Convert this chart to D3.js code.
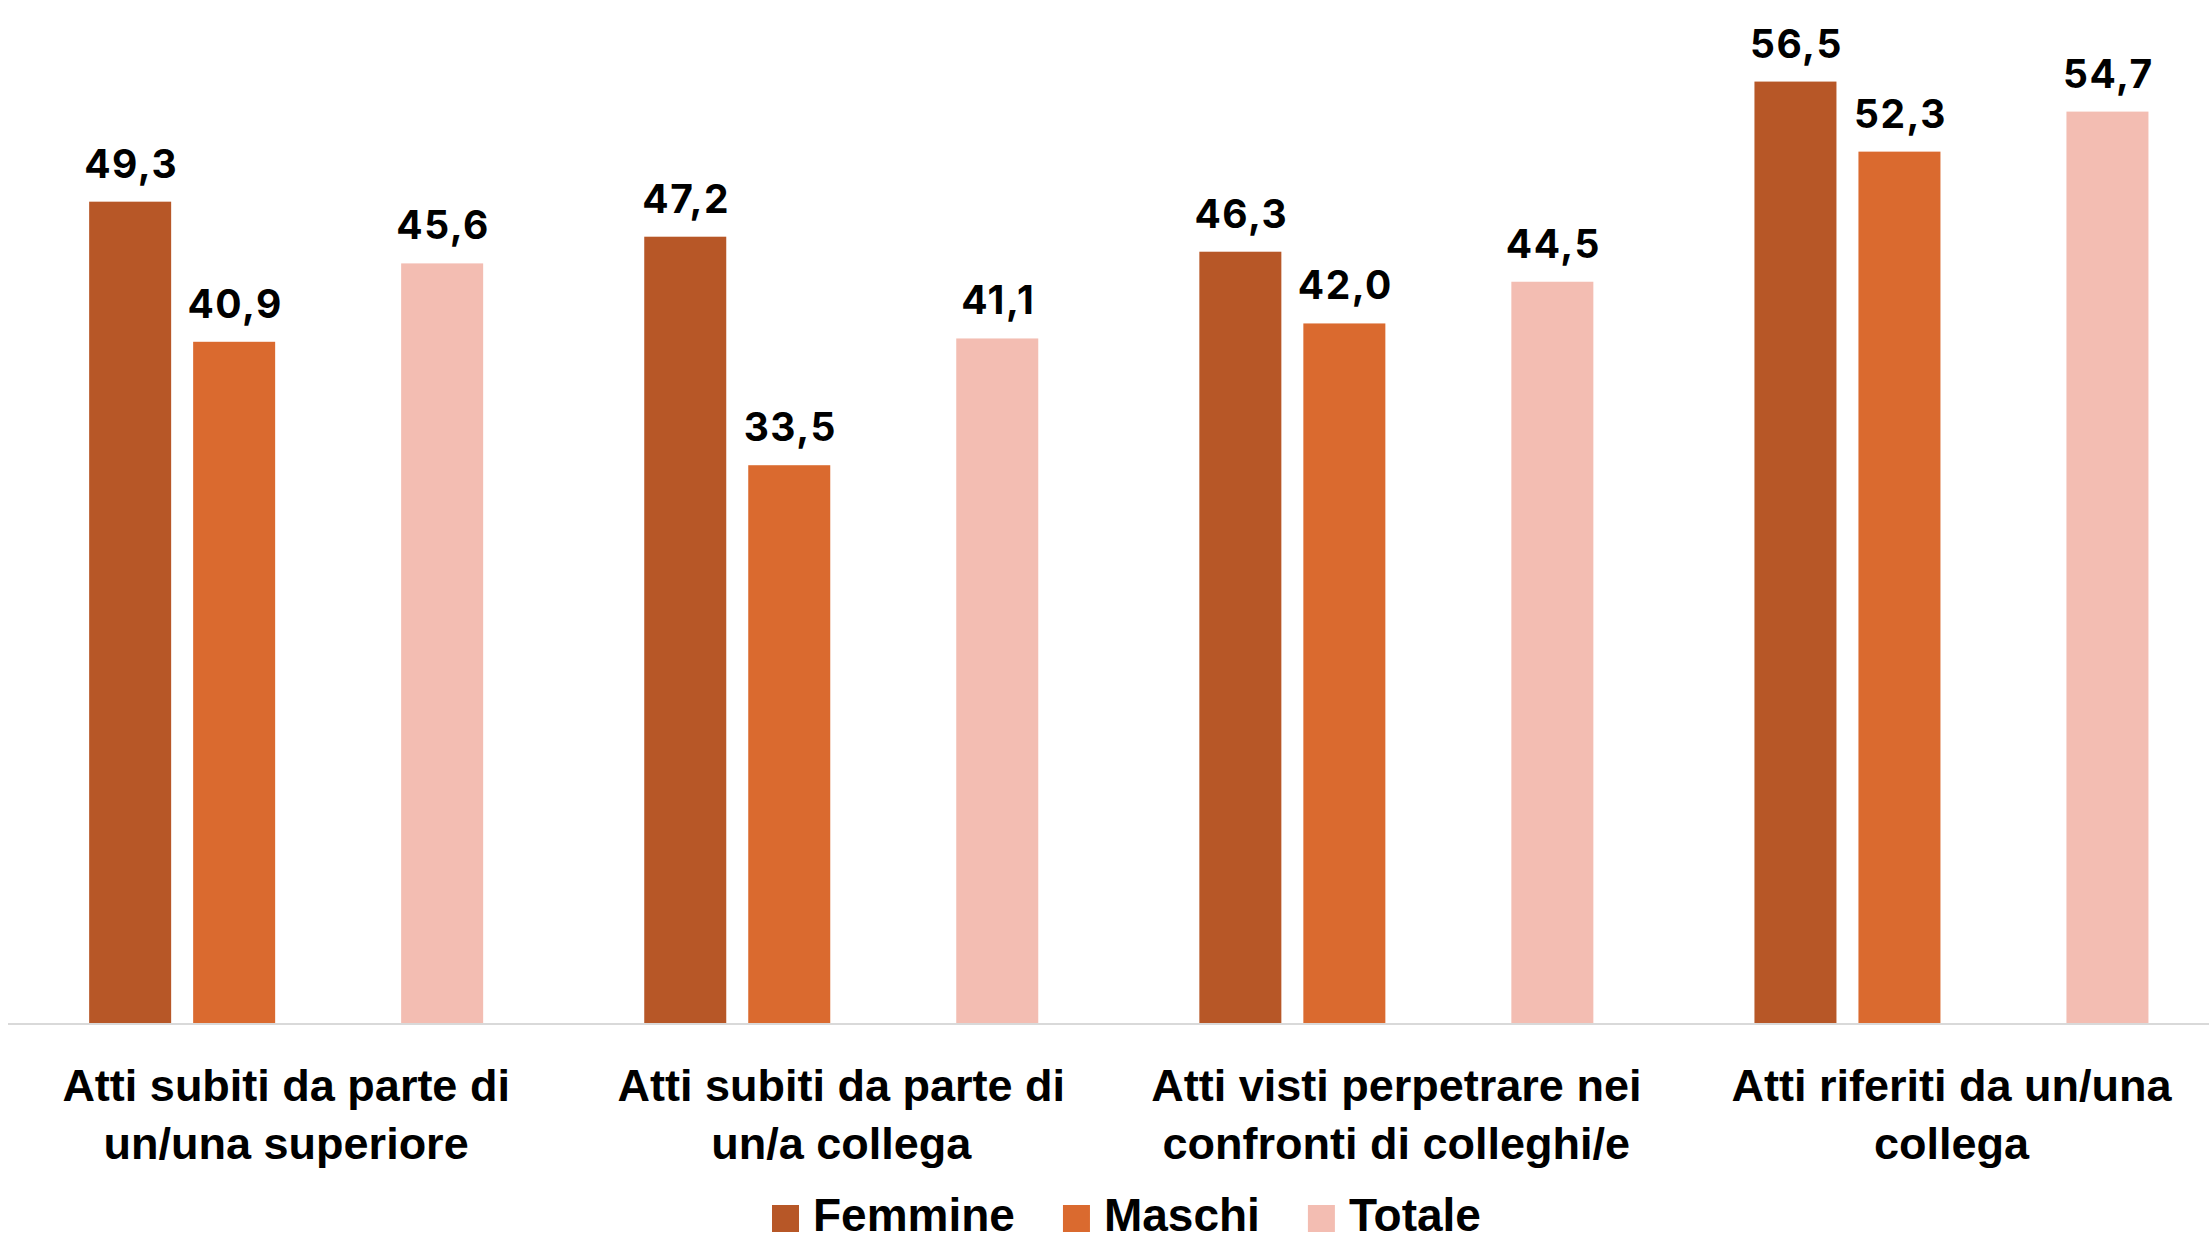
<!DOCTYPE html>
<html>
<head>
<meta charset="utf-8">
<script src="https://cdn.jsdelivr.net/npm/d3@7"></script>
<style>
  html, body { margin: 0; padding: 0; background: #ffffff; }
  svg { display: block; }
</style>
</head>
<body>
<svg id="chart" width="2209" height="1242"></svg>
<script>
// ---- data ----
const categories = [
  "Atti subiti da parte di un/una superiore",
  "Atti subiti da parte di un/a collega",
  "Atti visti perpetrare nei confronti di colleghi/e",
  "Atti riferiti da un/una collega"
];
const categoryLines = [
  ["Atti subiti da parte di", "un/una superiore"],
  ["Atti subiti da parte di", "un/a collega"],
  ["Atti visti perpetrare nei", "confronti di colleghi/e"],
  ["Atti riferiti da un/una", "collega"]
];
const seriesNames = ["Femmine", "Maschi", "Totale"];
const femmine = [49.3, 47.2, 46.3, 56.5];
const maschi  = [40.9, 33.5, 42.0, 52.3];
const totale  = [45.6, 41.1, 44.5, 54.7];
const seriesValues = [femmine, maschi, totale];
const seriesColors = ["#B75727", "#DA6A2F", "#F3BDB2"];
const slots = ["Femmine", "Maschi", "_vuoto", "Totale"];

// ---- layout ----
const svg = d3.select("#chart");
const baseY = 1024;
const topY = 23.2;

const x0 = d3.scaleBand().domain(categories).range([8.6, 2229.0]).paddingInner(0).paddingOuter(0);
const x1 = d3.scaleBand().domain(slots).range([0, x0.bandwidth()]).paddingInner(0.2115).paddingOuter(0.7745);
const y = d3.scaleLinear().domain([0, 60]).range([baseY, topY]);

const fmt = v => d3.format(".1f")(v).replace(".", ",");

// bars
const rows = [];
categories.forEach((c, i) => {
  seriesNames.forEach((s, j) => {
    rows.push({ cat: c, series: s, value: seriesValues[j][i], color: seriesColors[j] });
  });
});

svg.append("g").selectAll("rect").data(rows).join("rect")
  .attr("x", d => x0(d.cat) + x1(d.series))
  .attr("y", d => y(d.value))
  .attr("width", x1.bandwidth())
  .attr("height", d => y(0) - y(d.value))
  .attr("fill", d => d.color);

// baseline axis
const xAxis = d3.axisBottom(x0).tickSize(0).tickFormat("");
const axisG = svg.append("g").attr("transform", `translate(0,${baseY})`).call(xAxis);
axisG.select(".domain").attr("stroke", "#D9D9D9").attr("stroke-width", 2)
  .attr("d", `M8,0H2209`);

// value labels
svg.append("g").selectAll("text").data(rows).join("text")
  .attr("x", d => x0(d.cat) + x1(d.series) + x1.bandwidth() / 2 + 1)
  .attr("y", d => y(d.value) - 24)
  .attr("text-anchor", "middle")
  .attr("font-family", "Inter, 'Liberation Sans', Arial, sans-serif")
  .attr("font-weight", "bold")
  .attr("font-size", 39)
  .attr("letter-spacing", "1.5px")
  .attr("fill", "#000")
  .text(d => fmt(d.value));

// category labels
const catG = svg.append("g");
categories.forEach((c, i) => {
  const t = catG.append("text")
    .attr("x", x0(c) + x0.bandwidth() / 2)
    .attr("y", 1101)
    .attr("text-anchor", "middle")
    .attr("font-family", "'Liberation Sans', Arial, sans-serif")
    .attr("font-weight", "bold")
    .attr("font-size", 45)
    .attr("fill", "#000");
  categoryLines[i].forEach((line, k) => {
    t.append("tspan").attr("x", x0(c) + x0.bandwidth() / 2).attr("y", 1101 + k * 58).text(line);
  });
});

// legend
const legend = svg.append("g");
let lx = 772;
seriesNames.forEach((s, j) => {
  legend.append("rect").attr("x", lx).attr("y", 1205).attr("width", 27).attr("height", 27).attr("fill", seriesColors[j]);
  const t = legend.append("text")
    .attr("x", lx + 27 + 14)
    .attr("y", 1231)
    .attr("font-family", "'Liberation Sans', Arial, sans-serif")
    .attr("font-weight", "bold")
    .attr("font-size", 46)
    .attr("fill", "#000")
    .text(s);
  const w = t.node().getComputedTextLength();
  lx = lx + 27 + 14 + w + 48;
});
</script>
</body>
</html>
